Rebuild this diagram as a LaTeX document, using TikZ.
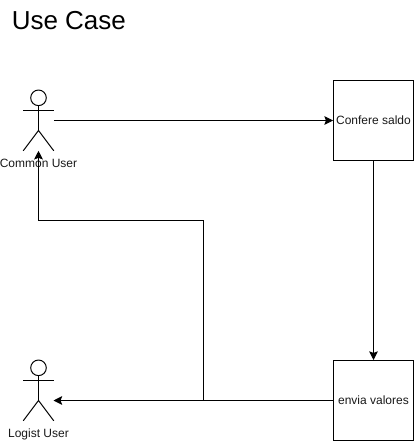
\documentclass[tikz,border=0pt]{standalone}
\usepackage{fontspec}
\setmainfont{Liberation Sans}
\usetikzlibrary{arrows.meta}
\tikzset{
  px/.style={x=0.75pt,y=-0.75pt},
  link/.style={draw=black,line width=0.75pt,-{Stealth[length=6.5pt,width=6.5pt,inset=1.2pt]}},
  stepbox/.style={draw=black,fill=white,line width=0.75pt,minimum width=60pt,minimum height=60pt,inner sep=0pt,font=\fontsize{9}{11}\selectfont,text=black!90},
  actorbox/.style={minimum width=22.5pt,minimum height=45pt,inner sep=0pt},
  figure/.style={draw=black,line width=0.75pt},
  lab/.style={font=\fontsize{9}{11}\selectfont,text=black!90,inner sep=0pt}
}
\begin{document}
\begin{tikzpicture}[px]
\useasboundingbox (0,0) rectangle (414,442);
\node[anchor=west,inner sep=0pt,font=\fontsize{19.5}{24}\selectfont] (title) at (11.5,21) {Use Case};
\node[stepbox] (confere) at (373.5,120.5) {Confere saldo};
\node[stepbox] (envia) at (373.5,400.5) {envia valores};
\node[actorbox] (common) at (38.5,120.5) {};
\node[actorbox] (logist) at (38.5,390.5) {};
\foreach \n in {common,logist}{
  \draw[figure] ([yshift=17pt]\n.center) circle[radius=5.85pt];
  \draw[figure] ([yshift=11.15pt]\n.center) -- ([yshift=-7.5pt]\n.center);
  \draw[figure] ([yshift=7.5pt]\n.west) -- ([yshift=7.5pt]\n.east);
  \draw[figure] (\n.south west) -- ([yshift=-7.5pt]\n.center) -- (\n.south east);
}
\node[lab] (commonlab) at (38.5,163.5) {Common User};
\node[lab] (logistlab) at (38.5,434.5) {Logist User};
\coordinate (logistin) at (53.5,400.5);
\draw[link] (common.east) -- (confere.west);
\draw[link] (confere.south) -- (envia.north);
\draw[link] (envia.west) -- (logistin);
\coordinate (up) at (203.5,400.5);
\coordinate (turn) at (203.5,220.5);
\coordinate (over) at (38.5,220.5);
\draw[link] (up) -- (turn) -- (over) -- (common.south);
\end{tikzpicture}
\end{document}
